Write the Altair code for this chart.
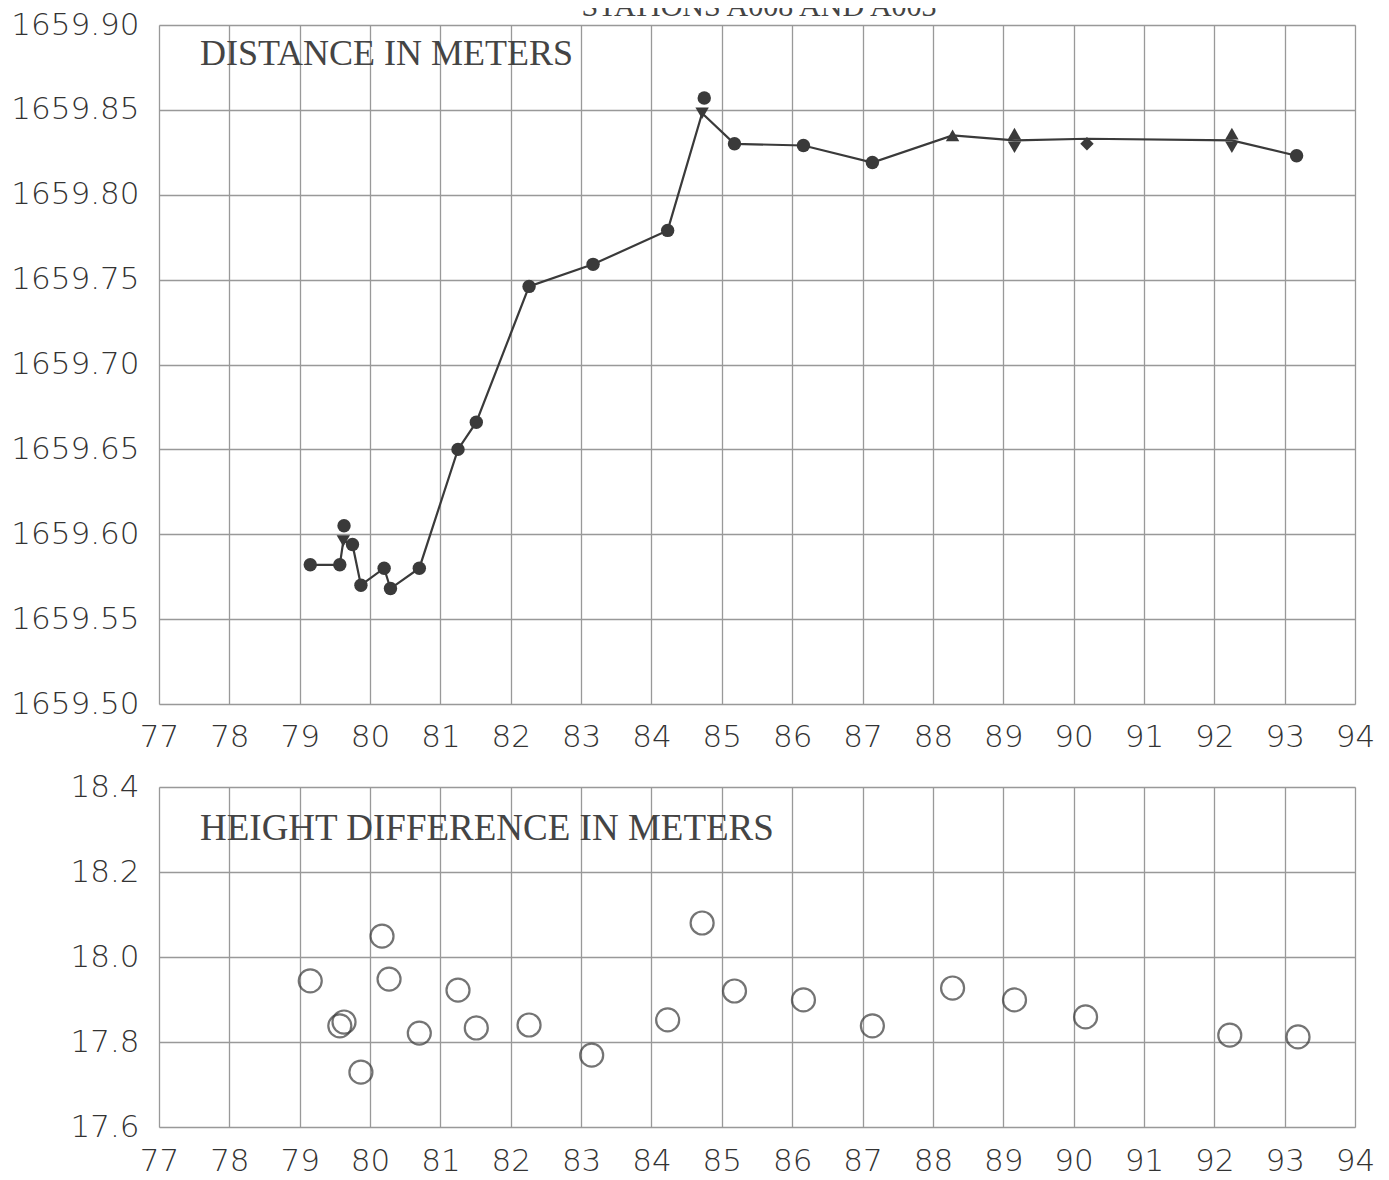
import altair as alt
import pandas as pd

# ---- top panel: distance (markers) ----
mk_years = [79.15, 79.57, 79.63, 79.62, 79.75, 79.87, 80.20, 80.29, 80.70, 81.25,
            81.51, 82.26, 83.17, 84.23, 84.75, 84.72, 85.18, 86.16, 87.14, 88.28,
            89.16, 89.16, 90.19, 92.25, 92.25, 93.17]
mk_dist = [1659.582, 1659.582, 1659.605, 1659.596, 1659.594, 1659.570, 1659.580, 1659.568, 1659.580, 1659.650,
           1659.666, 1659.746, 1659.759, 1659.779, 1659.857, 1659.848, 1659.830, 1659.829, 1659.819, 1659.835,
           1659.836, 1659.828, 1659.830, 1659.836, 1659.828, 1659.823]
mk_shapes = ["circle", "circle", "circle", "triangle-down", "circle", "circle", "circle", "circle", "circle", "circle",
             "circle", "circle", "circle", "circle", "circle", "triangle-down", "circle", "circle", "circle", "triangle-up",
             "triangle-up", "triangle-down", "diamond", "triangle-up", "triangle-down", "circle"]

# ---- top panel: connecting line ----
line_years = [79.15, 79.57, 79.62, 79.75, 79.87, 80.20, 80.29, 80.70, 81.25, 81.51, 82.26,
              83.17, 84.23, 84.72, 85.18, 86.16, 87.14, 88.28, 89.16, 90.19, 92.25, 93.17]
line_dist = [1659.582, 1659.582, 1659.596, 1659.594, 1659.570, 1659.580, 1659.568, 1659.580, 1659.650, 1659.666, 1659.746,
             1659.759, 1659.779, 1659.848, 1659.830, 1659.829, 1659.819, 1659.835, 1659.832, 1659.833, 1659.832, 1659.823]

# ---- bottom panel: height difference ----
h_years = [79.15, 79.57, 79.63, 79.87, 80.17, 80.27, 80.70, 81.25, 81.51, 82.26, 83.15,
           84.23, 84.72, 85.18, 86.16, 87.14, 88.28, 89.16, 90.17, 92.22, 93.19]
h_diff = [17.944, 17.838, 17.847, 17.729, 18.049, 17.948, 17.821, 17.922, 17.833, 17.840, 17.769,
          17.852, 18.080, 17.920, 17.899, 17.838, 17.927, 17.899, 17.859, 17.816, 17.812]

x_ticks = list(range(77, 95))
top_ticks = [1659.50, 1659.55, 1659.60, 1659.65, 1659.70, 1659.75, 1659.80, 1659.85, 1659.90]
bot_ticks = [17.6, 17.8, 18.0, 18.2, 18.4]

title_text = "STATIONS A008 AND A003"
top_label = "DISTANCE IN METERS"
bot_label = "HEIGHT DIFFERENCE IN METERS"

AX_FONT = "DejaVu Sans"
INK = "#3a3a3a"

def x_axis(pad):
    return alt.Axis(values=x_ticks, format="d", title=None, labelFont=AX_FONT, labelFontWeight=200,
                    labelFontSize=31, labelColor="#333", labelPadding=pad, labelFlush=False,
                    labelOverlap=False, tickSize=0, domain=False, grid=True,
                    gridColor="#999999", gridWidth=1.3)

def y_axis(vals, fmt):
    return alt.Axis(values=vals, format=fmt, title=None, labelFont=AX_FONT, labelFontWeight=200,
                    labelFontSize=31, labelColor="#333", labelPadding=20, labelFlush=False,
                    labelOverlap=False, tickSize=0, domain=False, grid=True,
                    gridColor="#999999", gridWidth=1.3)

xs = alt.Scale(domain=[77, 94], nice=False, zero=False)
ys_top = alt.Scale(domain=[1659.5, 1659.9], nice=False, zero=False)
ys_bot = alt.Scale(domain=[17.6, 18.4], nice=False, zero=False)

mk_df = pd.DataFrame({"year": mk_years, "dist": mk_dist, "shape": mk_shapes})
line_df = pd.DataFrame({"year": line_years, "dist": line_dist})
h_df = pd.DataFrame({"year": h_years, "diff": h_diff})

top_line = alt.Chart(line_df).mark_line(color=INK, strokeWidth=2.2).encode(
    x=alt.X("year:Q", scale=xs, axis=x_axis(18)),
    y=alt.Y("dist:Q", scale=ys_top, axis=y_axis(top_ticks, ".2f")),
)
top_pts = alt.Chart(mk_df).mark_point(filled=True, color=INK, opacity=1, size=180).encode(
    x=alt.X("year:Q", scale=xs),
    y=alt.Y("dist:Q", scale=ys_top),
    shape=alt.Shape("shape:N", scale=None),
)
top_txt = alt.Chart(pd.DataFrame({"t": [top_label]})).mark_text(
    font="Liberation Serif", fontSize=36, color="#444", align="left", baseline="alphabetic"
).encode(text="t:N", x=alt.value(41), y=alt.value(40))
title_mark = alt.Chart(pd.DataFrame({"t": [title_text]})).mark_text(
    font="Liberation Serif", fontSize=30, color="#444", align="center", baseline="alphabetic"
).encode(text="t:N", x=alt.value(600), y=alt.value(-9))

top = alt.layer(top_line, top_pts, top_txt, title_mark).properties(width=1196, height=679)

bot_pts = alt.Chart(h_df).mark_point(filled=False, color=INK, strokeWidth=2.2, size=530, shape="circle").encode(
    x=alt.X("year:Q", scale=xs, axis=x_axis(19)),
    y=alt.Y("diff:Q", scale=ys_bot, axis=y_axis(bot_ticks, ".1f")),
)
bot_txt = alt.Chart(pd.DataFrame({"t": [bot_label]})).mark_text(
    font="Liberation Serif", fontSize=37, color="#444", align="left", baseline="alphabetic"
).encode(text="t:N", x=alt.value(41), y=alt.value(53))

bottom = alt.layer(bot_pts, bot_txt).properties(width=1196, height=340)

chart = alt.vconcat(top, bottom, spacing=17).properties(
    padding={"top": -17, "left": 2, "right": 5, "bottom": 5}
).configure_view(
    stroke="#555", strokeWidth=2, fill="#eeeeee"
).configure(background="white")

chart.save("out.html", embed_options={"renderer": "svg", "actions": False})
